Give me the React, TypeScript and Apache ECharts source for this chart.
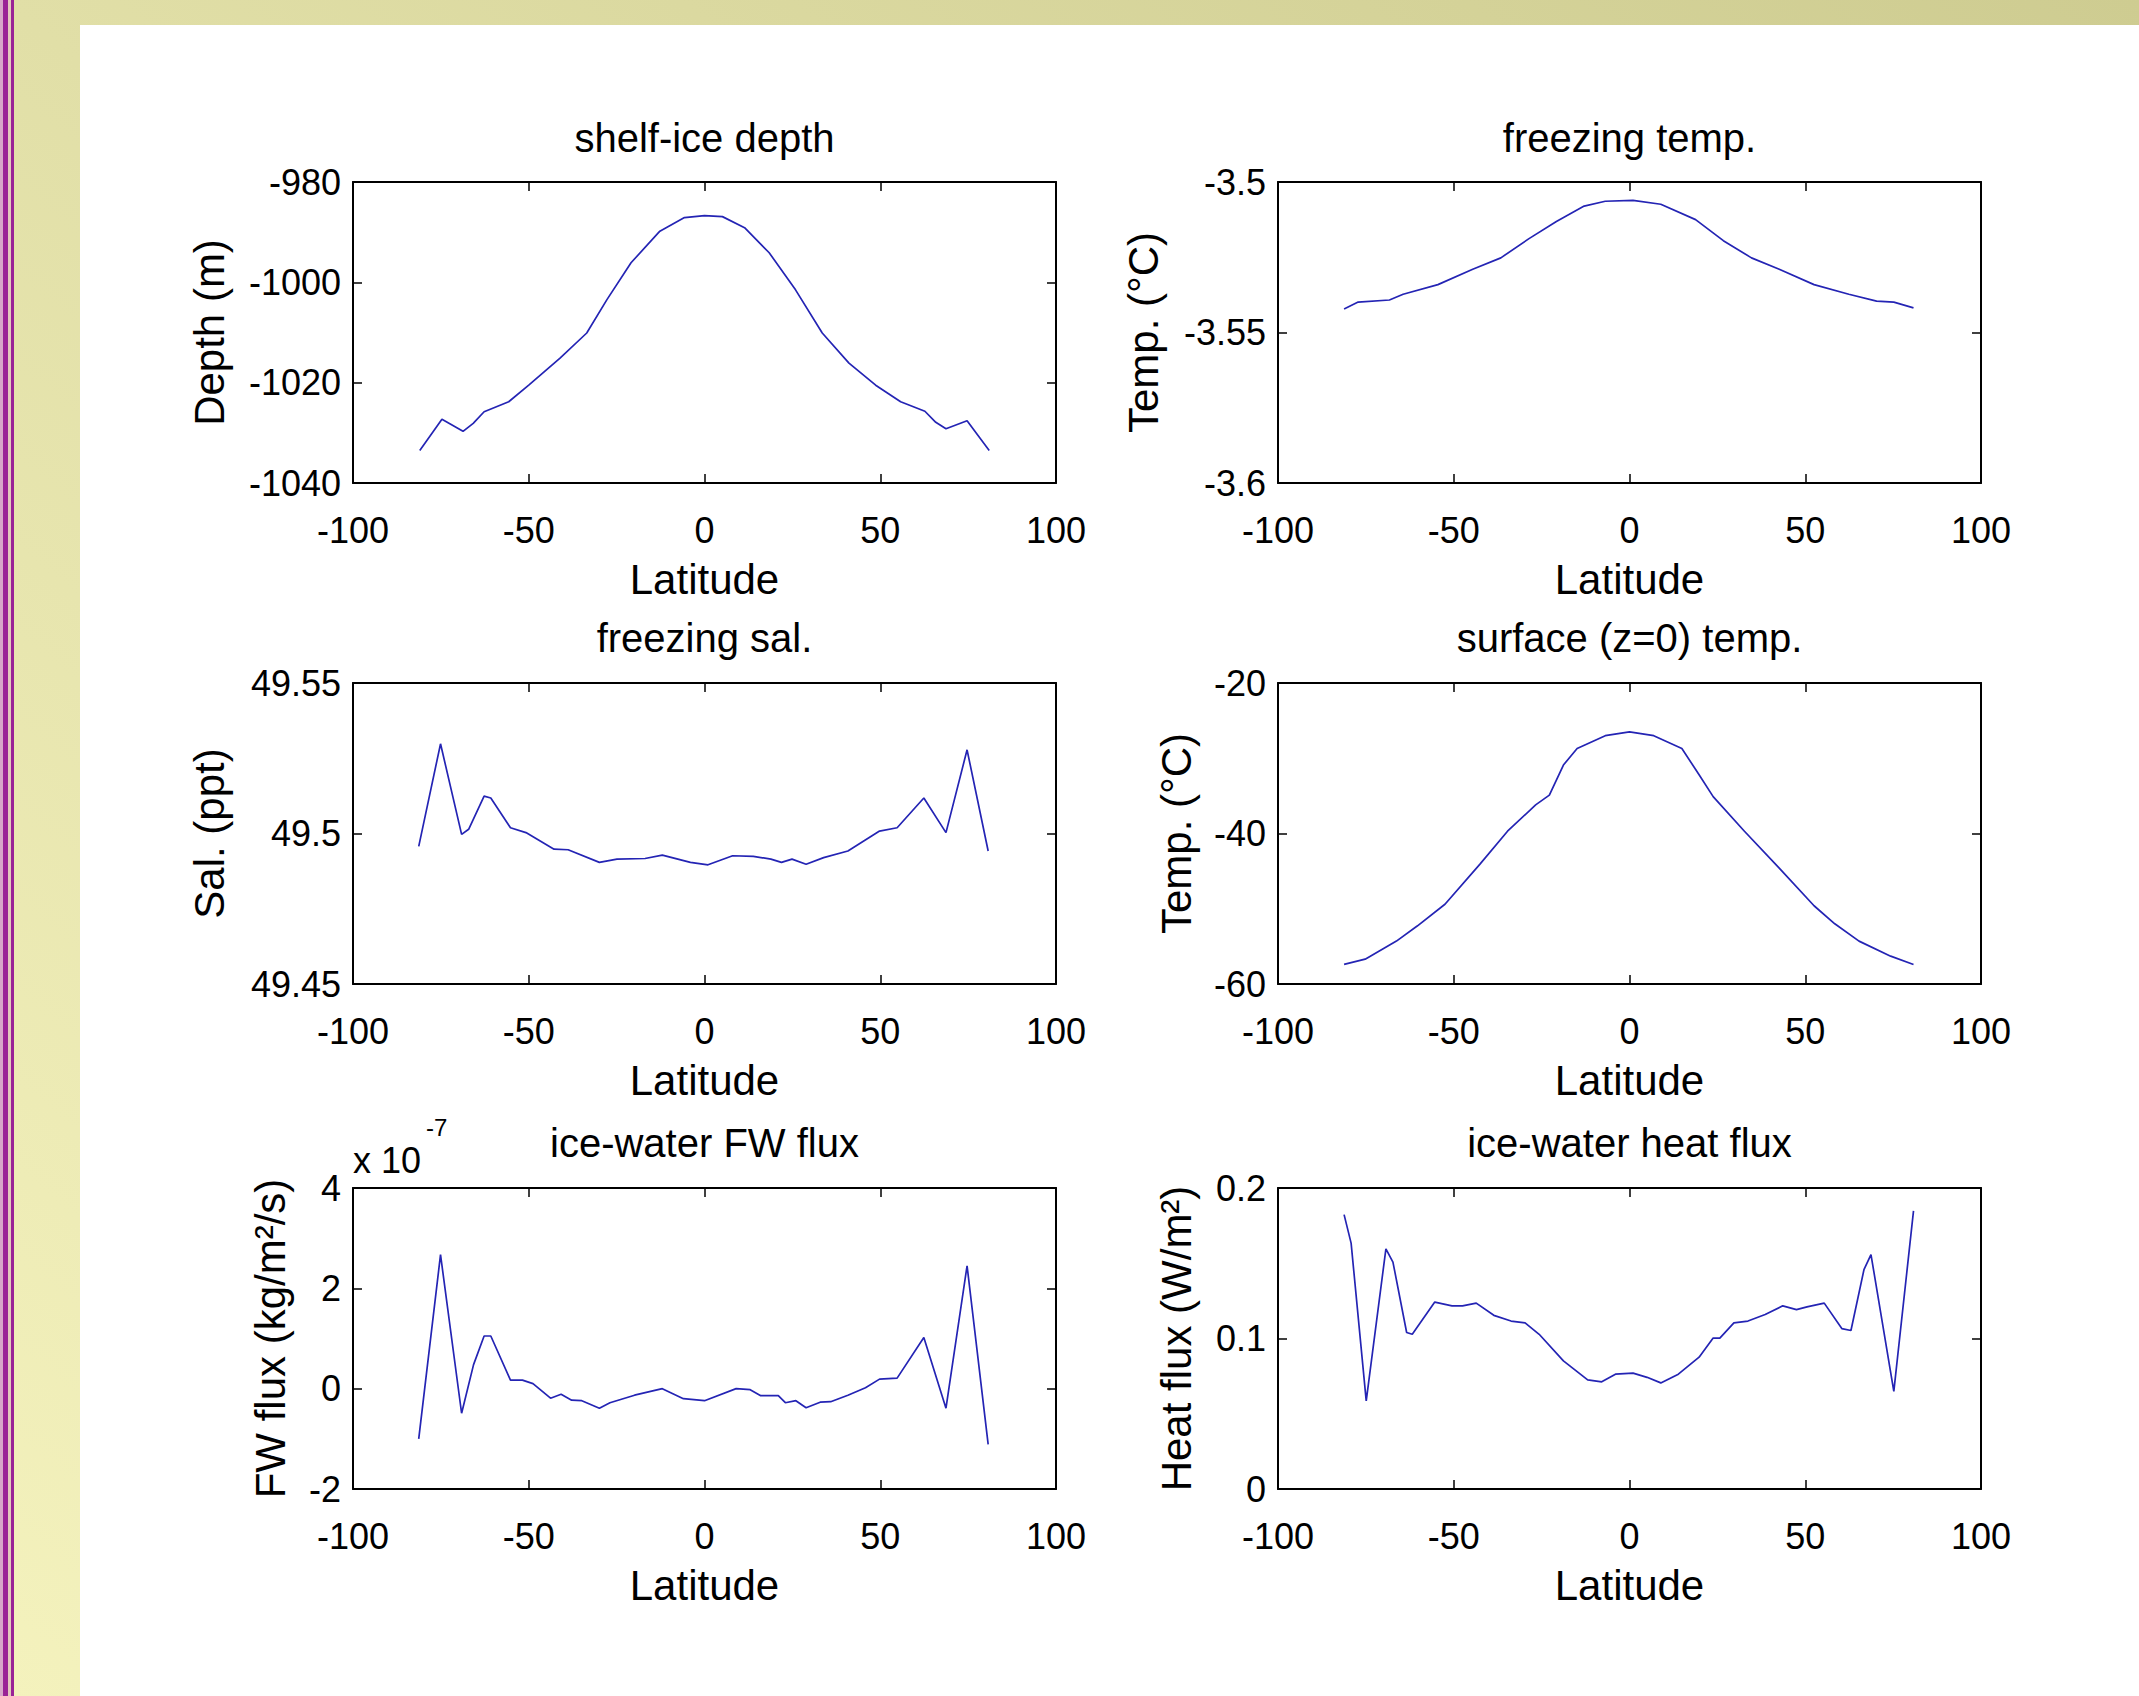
import React, { useEffect, useRef } from "react";
import * as echarts from "echarts";

const W = 2139;
const H = 1696;
const FONT = "'Liberation Sans', Arial, Helvetica, sans-serif";

// x tick labels (Latitude)
const latTicks = [-100, -50, 0, 50, 100];

// ---- shelf-ice depth ----
const depthLat = [-81, -74.7, -68.7, -65.8, -62.7, -55.7, -50, -41.1, -33.5, -27.8, -20.9, -12.7, -5.7, 0, 5.1, 11.4, 18.4, 25.9, 33.5, 41.1, 48.7, 55.8, 62.7, 65.8, 68.7, 74.7, 81];
const depthVal = [-1033.5, -1027.3, -1029.7, -1028.1, -1025.8, -1023.8, -1020.5, -1015.1, -1010.1, -1003.5, -996.1, -989.8, -987.1, -986.7, -986.9, -989.1, -994.1, -1001.5, -1010.1, -1016.1, -1020.5, -1023.8, -1025.7, -1027.9, -1029.2, -1027.6, -1033.5];

// ---- freezing temp. ----
const fTempLat = [-81.2, -77.2, -68.3, -64.4, -54.5, -44.6, -36.6, -28.7, -20.8, -12.9, -6.9, 1, 8.9, 18.8, 26.7, 34.7, 42.6, 52.5, 62.4, 70.3, 75.2, 80.8];
const fTempVal = [-3.5422, -3.5399, -3.5392, -3.5373, -3.5341, -3.529, -3.5252, -3.5189, -3.5131, -3.508, -3.5064, -3.5061, -3.5074, -3.5125, -3.5195, -3.5252, -3.529, -3.5341, -3.5373, -3.5396, -3.5399, -3.5418];

// ---- freezing sal. ----
const fSalLat = [-81.3, -75.1, -69.1, -67.1, -62.7, -60.8, -55.2, -50.8, -42.8, -38.8, -29.9, -24.9, -16.9, -12, -4, 1, 8, 13.9, 18.9, 21.9, 24.9, 28.9, 33.9, 40.8, 49.8, 54.8, 62.4, 68.7, 74.7, 80.7];
const fSalVal = [49.4957, 49.5298, 49.4997, 49.5014, 49.5124, 49.5118, 49.5019, 49.5003, 49.4948, 49.4946, 49.4904, 49.4915, 49.4917, 49.4928, 49.4904, 49.4896, 49.4926, 49.4924, 49.4915, 49.4904, 49.4915, 49.4898, 49.492, 49.4942, 49.5008, 49.5019, 49.5118, 49.5003, 49.5278, 49.4942];

// ---- surface (z=0) temp. ----
const sTempLat = [-81.2, -75.2, -66.3, -60.4, -52.5, -42.6, -34.7, -26.7, -22.8, -18.8, -14.9, -6.9, 0, 6.9, 14.9, 19.8, 23.8, 32.7, 42.6, 52.5, 58.4, 65.3, 74.3, 80.8];
const sTempVal = [-57.4, -56.7, -54.3, -52.3, -49.4, -44.1, -39.7, -36.2, -34.9, -30.9, -28.7, -27.0, -26.5, -27.0, -28.7, -32.2, -35.1, -39.7, -44.6, -49.6, -52.0, -54.3, -56.3, -57.4];

// ---- ice-water FW flux (units of 1e-7 kg/m^2/s) ----
const fwLat = [-81.3, -75.1, -69.1, -65.7, -62.7, -60.8, -55.2, -51.8, -48.8, -43.8, -40.8, -37.8, -34.9, -29.9, -26.9, -19.9, -12, -6, 0, 9, 13, 16, 21, 23, 26, 28.9, 32.9, 35.9, 40.8, 45.8, 49.8, 54.8, 62.4, 68.7, 74.7, 80.7];
const fwVal = [-1.0, 2.67, -0.49, 0.48, 1.05, 1.05, 0.17, 0.17, 0.1, -0.19, -0.11, -0.23, -0.24, -0.39, -0.28, -0.13, 0, -0.2, -0.24, 0, -0.02, -0.14, -0.14, -0.28, -0.24, -0.38, -0.27, -0.26, -0.13, 0.02, 0.19, 0.21, 1.02, -0.39, 2.45, -1.11];

// ---- ice-water heat flux ----
const hfLat = [-81.2, -79.2, -74.9, -69.3, -67.3, -63.4, -61.8, -55.4, -50.5, -47.5, -43.6, -38.6, -33.7, -29.7, -25.7, -18.8, -11.9, -7.9, -4, 1, 5, 8.9, 13.9, 19.8, 23.8, 25.7, 29.7, 33.7, 38.6, 43.6, 47.5, 50.5, 55.4, 60.4, 63, 66.7, 68.7, 75.2, 80.8];
const hfVal = [0.1823, 0.1634, 0.0586, 0.1596, 0.1508, 0.104, 0.1028, 0.1242, 0.1217, 0.1217, 0.1235, 0.1154, 0.1116, 0.1104, 0.1028, 0.0851, 0.0725, 0.0712, 0.0763, 0.077, 0.0742, 0.0705, 0.0763, 0.0876, 0.1003, 0.1003, 0.1104, 0.1116, 0.1159, 0.1217, 0.1192, 0.121, 0.1235, 0.1066, 0.1053, 0.1457, 0.1558, 0.0649, 0.1848];

type Panel = {
  title: string;
  yName: string;
  lat: number[];
  val: number[];
  min: number;
  max: number;
  interval: number;
  dec: number;
  nameGap: number;
};

const panels: Panel[] = [
  { title: "shelf-ice depth", yName: "Depth (m)", lat: depthLat, val: depthVal, min: -1040, max: -980, interval: 20, dec: 0, nameGap: 123 },
  { title: "freezing temp.", yName: "Temp. (°C)", lat: fTempLat, val: fTempVal, min: -3.6, max: -3.5, interval: 0.05, dec: 2, nameGap: 114 },
  { title: "freezing sal.", yName: "Sal. (ppt)", lat: fSalLat, val: fSalVal, min: 49.45, max: 49.55, interval: 0.05, dec: 2, nameGap: 123 },
  { title: "surface (z=0) temp.", yName: "Temp. (°C)", lat: sTempLat, val: sTempVal, min: -60, max: -20, interval: 20, dec: 0, nameGap: 81 },
  { title: "ice-water FW flux", yName: "FW flux (kg/m²/s)", lat: fwLat, val: fwVal, min: -2, max: 4, interval: 2, dec: 0, nameGap: 62 },
  { title: "ice-water heat flux", yName: "Heat flux (W/m²)", lat: hfLat, val: hfVal, min: 0, max: 0.2, interval: 0.1, dec: 1, nameGap: 81 },
];

// layout
const colLeft = [353, 1278];
const colWidth = 703;
const rowTop = [182, 683, 1188];
const rowHeight = 301;
const titleY = [138, 638, 1143];

const TICK_FS = 36;
const NAME_FS = 42;
const TITLE_FS = 40;
const LINE_COLOR = "#2424b4";

function buildOption() {
  const grids: any[] = [];
  const xAxes: any[] = [];
  const yAxes: any[] = [];
  const series: any[] = [];
  const graphics: any[] = [];

  graphics.push(
    {
      type: "rect",
      z: -10,
      silent: true,
      shape: { x: 0, y: 0, width: W, height: H },
      style: {
        fill: new echarts.graphic.LinearGradient(1, 0, 0, 1, [
          { offset: 0, color: "#cecc91" },
          { offset: 1, color: "#f4f2bd" },
        ]),
      },
    },
    { type: "rect", z: -9, silent: true, shape: { x: 80, y: 25, width: W - 80, height: H - 25 }, style: { fill: "#ffffff" } },
    { type: "rect", z: -9, silent: true, shape: { x: 0, y: 0, width: 3, height: H }, style: { fill: "#d7a6c9" } },
    { type: "rect", z: -9, silent: true, shape: { x: 3, y: 0, width: 5, height: H }, style: { fill: "#9a2396" } },
    { type: "rect", z: -9, silent: true, shape: { x: 8, y: 0, width: 3, height: H }, style: { fill: "#e2c7bd" } },
    { type: "rect", z: -9, silent: true, shape: { x: 11, y: 0, width: 3, height: H }, style: { fill: "#9a2396" } }
  );

  panels.forEach((p, i) => {
    const col = i % 2;
    const row = Math.floor(i / 2);
    const left = colLeft[col];
    const top = rowTop[row];
    grids.push({ left, top, width: colWidth, height: rowHeight, containLabel: false });

    const axisLine = { show: true, onZero: false, lineStyle: { color: "#000", width: 2 } };
    const axisTick = { show: true, inside: true, length: 9, lineStyle: { color: "#000", width: 1.5 } };

    xAxes.push({
      type: "value",
      gridIndex: i,
      position: "bottom",
      min: -100,
      max: 100,
      interval: 50,
      axisLine,
      axisTick,
      splitLine: { show: false },
      axisLabel: {
        show: true,
        margin: 29,
        fontSize: TICK_FS,
        color: "#000",
        fontFamily: FONT,
        formatter: (v: number) => (latTicks.includes(v) ? String(v) : ""),
      },
      name: "Latitude",
      nameLocation: "middle",
      nameGap: 75,
      nameTextStyle: { fontSize: NAME_FS, color: "#000", fontFamily: FONT },
    });
    xAxes.push({
      type: "value",
      gridIndex: i,
      position: "top",
      min: -100,
      max: 100,
      interval: 50,
      axisLine,
      axisTick,
      splitLine: { show: false },
      axisLabel: { show: false },
    });

    yAxes.push({
      type: "value",
      gridIndex: i,
      position: "left",
      min: p.min,
      max: p.max,
      interval: p.interval,
      axisLine,
      axisTick,
      splitLine: { show: false },
      axisLabel: {
        show: true,
        margin: 12,
        fontSize: TICK_FS,
        color: "#000",
        fontFamily: FONT,
        formatter: (v: number) => String(parseFloat(v.toFixed(p.dec))),
      },
      name: p.yName,
      nameLocation: "middle",
      nameRotate: 90,
      nameGap: p.nameGap,
      nameTextStyle: { fontSize: NAME_FS, color: "#000", fontFamily: FONT },
    });
    yAxes.push({
      type: "value",
      gridIndex: i,
      position: "right",
      min: p.min,
      max: p.max,
      interval: p.interval,
      axisLine,
      axisTick,
      splitLine: { show: false },
      axisLabel: { show: false },
    });

    series.push({
      type: "line",
      name: p.title,
      xAxisIndex: 2 * i,
      yAxisIndex: 2 * i,
      showSymbol: false,
      symbol: "none",
      lineStyle: { color: LINE_COLOR, width: 1.7 },
      data: p.lat.map((x, k) => [x, p.val[k]]),
    });

    graphics.push({
      type: "text",
      silent: true,
      x: left + colWidth / 2,
      y: titleY[row],
      style: {
        text: p.title,
        fill: "#000",
        font: `${TITLE_FS}px ${FONT}`,
        align: "center",
        verticalAlign: "middle",
      },
    });
  });

  // exponent label of FW flux axis
  graphics.push(
    {
      type: "text",
      silent: true,
      x: 353,
      y: 1160,
      style: { text: "x 10", fill: "#000", font: `${TICK_FS}px ${FONT}`, align: "left", verticalAlign: "middle" },
    },
    {
      type: "text",
      silent: true,
      x: 426,
      y: 1127,
      style: { text: "-7", fill: "#000", font: `24px ${FONT}`, align: "left", verticalAlign: "middle" },
    }
  );

  return {
    animation: false,
    backgroundColor: "transparent",
    grid: grids,
    xAxis: xAxes,
    yAxis: yAxes,
    series,
    graphic: graphics,
  };
}

export default function App() {
  const ref = useRef<HTMLDivElement>(null);
  useEffect(() => {
    if (!ref.current) return;
    const chart = echarts.init(ref.current, undefined, { renderer: "svg" });
    chart.setOption(buildOption() as any);
    return () => chart.dispose();
  }, []);
  return (
    <div
      ref={ref}
      style={{ position: "absolute", left: 0, top: 0, width: W, height: H, overflow: "hidden" }}
    />
  );
}
